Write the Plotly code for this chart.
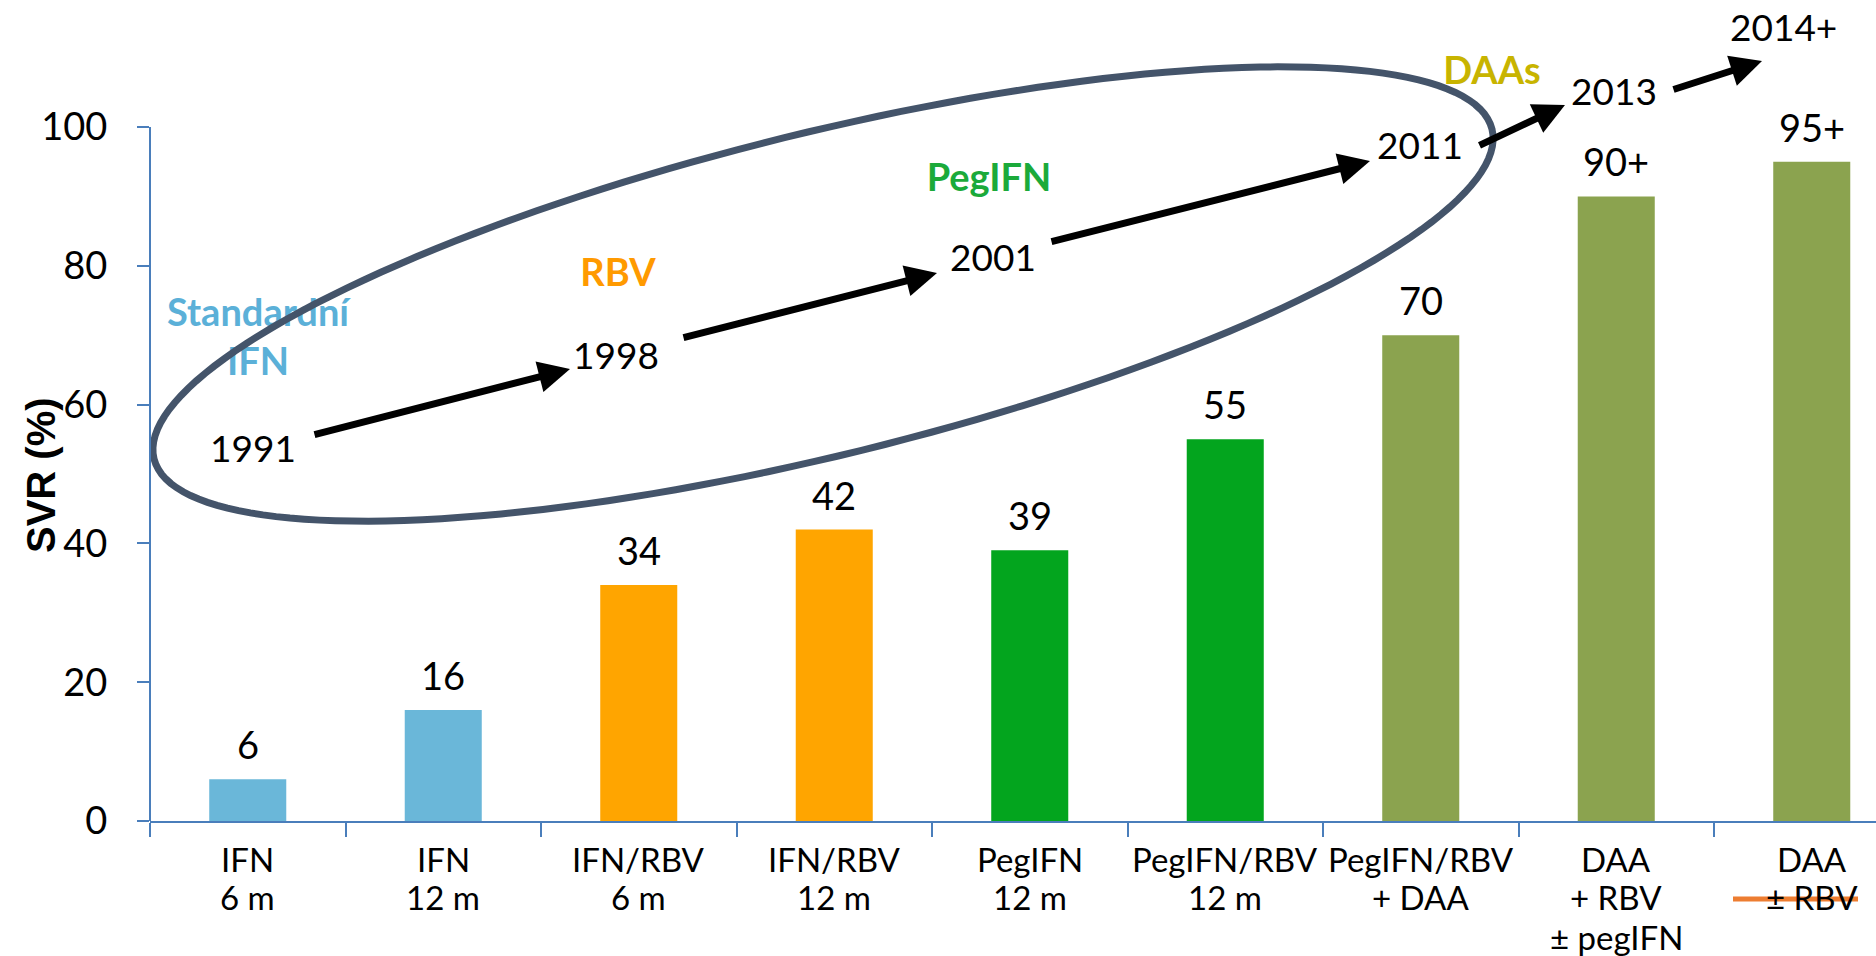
import numpy as np
import plotly.graph_objects as go

W, H = 1876, 956

# ---------------- data ----------------
categories = ["IFN 6 m", "IFN 12 m", "IFN/RBV 6 m", "IFN/RBV 12 m", "PegIFN 12 m",
              "PegIFN/RBV 12 m", "PegIFN/RBV + DAA", "DAA + RBV ± pegIFN", "DAA ± RBV"]
category_lines = [["IFN", "6 m"], ["IFN", "12 m"], ["IFN/RBV", "6 m"], ["IFN/RBV", "12 m"],
                  ["PegIFN", "12 m"], ["PegIFN/RBV", "12 m"], ["PegIFN/RBV", "+ DAA"],
                  ["DAA", "+ RBV", "± pegIFN"], ["DAA", "± RBV"]]
svr_values = [6, 16, 34, 42, 39, 55, 70, 90, 95]
svr_labels = ["6", "16", "34", "42", "39", "55", "70", "90+", "95+"]
bar_colors = ["#6AB7D9", "#6AB7D9", "#FFA500", "#FFA500", "#03A51E", "#03A51E",
              "#8BA34F", "#8BA34F", "#8BA34F"]
y_tick_values = [0, 20, 40, 60, 80, 100]
years = ["1991", "1998", "2001", "2011", "2013", "2014+"]
eras = ["Standardní<br>IFN", "RBV", "PegIFN", "DAAs"]
era_colors = ["#5BB0D8", "#FF9A00", "#1BAA3A", "#C8B400"]

# ---------------- layout positions (pixels) ----------------
year_pos = [(253, 447), (616, 354), (993, 256), (1420, 145), (1614, 91), (1783, 26)]
era_x = [258, 618, 989, 1492]
era_y = [341, 276, 181, 74]
arrow_pos = [((313, 435), (570, 369)), ((682, 338), (937, 273)), ((1050, 242), (1370, 161)),
             ((1478, 146), (1565, 105)), ((1672, 90), (1762, 61))]
line_y = [859, 897, 937]

PLOT_L, PLOT_B = 150, 821
PX_PER_UNIT = (821 - 127) / 100.0
Y_TOP = PLOT_B / PX_PER_UNIT
X_RIGHT = -0.5 + (W - PLOT_L) / 195.5


def px(x):
    return x / W


def py(y):
    return 1 - y / H


AXIS_COLOR = "#4A7EBB"
FONT = "Lato, 'Open Sans', sans-serif"

fig = go.Figure()
fig.add_trace(go.Bar(x=categories, y=svr_values, marker=dict(color=bar_colors, line_width=0),
                     hoverinfo="x+y"))
# era names (drawn as a trace so the ellipse passes over them)
fig.add_trace(go.Scatter(x=era_x, y=era_y, xaxis="x2", yaxis="y2", mode="text",
                         text=["<b>" + e + "</b>" for e in eras], textposition="middle center",
                         textfont=dict(family=FONT, size=38, color=era_colors),
                         cliponaxis=False, hoverinfo="skip"))

annotations = []
# value labels above bars
for c, v, t in zip(categories, svr_values, svr_labels):
    annotations.append(dict(x=c, y=v, xref="x", yref="y", text=t, showarrow=False,
                            yshift=35, yanchor="middle", xanchor="center",
                            font=dict(family=FONT, size=38, color="#000000")))
# category labels (multi-line)
for c, lines in zip(categories, category_lines):
    for i, ln in enumerate(lines):
        annotations.append(dict(x=c, y=py(line_y[i]), xref="x", yref="paper", text=ln,
                                showarrow=False, xanchor="center", yanchor="middle",
                                font=dict(family=FONT, size=33, color="#000000")))
# years
for t, (x, y) in zip(years, year_pos):
    annotations.append(dict(x=px(x), y=py(y), xref="paper", yref="paper", text=t,
                            showarrow=False, xanchor="center", yanchor="middle",
                            font=dict(family=FONT, size=37, color="#000000")))
# arrows
for (tx, ty), (hx, hy) in arrow_pos:
    annotations.append(dict(x=px(hx), y=py(hy), xref="paper", yref="paper", text="",
                            showarrow=True, ax=tx - hx, ay=ty - hy, axref="pixel", ayref="pixel",
                            arrowhead=2, arrowsize=0.9, arrowwidth=7, arrowcolor="#000000",
                            standoff=0))
# y axis title
annotations.append(dict(x=px(41), y=py(475), xref="paper", yref="paper",
                        text="<b>SVR (%)</b>", textangle=-90, showarrow=False,
                        xanchor="center", yanchor="middle",
                        font=dict(family="'Liberation Sans', Arial, sans-serif", size=40,
                                  color="#000000")))

# ellipse around the timeline
cx, cy, a, b, th = 823, 294, 689, 161, np.deg2rad(13.84)
t = np.linspace(0, 2 * np.pi, 181)
ex = cx + a * np.cos(th) * np.cos(t) - b * np.sin(th) * np.sin(t)
ey = cy - (a * np.sin(th) * np.cos(t) + b * np.cos(th) * np.sin(t))
path = "M " + " L ".join(f"{px(x):.5f},{py(y):.5f}" for x, y in zip(ex, ey)) + " Z"

shapes = [
    dict(type="path", path=path, xref="paper", yref="paper",
         line=dict(color="#44546A", width=7), layer="above"),
    # y axis line (0-100 only)
    dict(type="line", xref="paper", yref="y", x0=px(PLOT_L), x1=px(PLOT_L), y0=0, y1=100,
         line=dict(color=AXIS_COLOR, width=2)),
    # strike-through on last category label
    dict(type="line", xref="paper", yref="paper", x0=px(1733), x1=px(1858),
         y0=py(899), y1=py(899), line=dict(color="#ED7D31", width=5)),
]

fig.update_layout(
    width=W, height=H,
    margin=dict(l=0, r=0, t=0, b=0, autoexpand=False),
    paper_bgcolor="white", plot_bgcolor="white",
    showlegend=False,
    bargap=0.606,
    annotations=annotations,
    shapes=shapes,
    xaxis=dict(domain=[px(PLOT_L), 1], range=[-0.5, X_RIGHT], type="category",
               showticklabels=False, showgrid=False, zeroline=False,
               showline=True, linecolor=AXIS_COLOR, linewidth=2,
               ticks="outside", tickson="boundaries", ticklen=14, tickwidth=2,
               tickcolor=AXIS_COLOR, automargin=False),
    yaxis=dict(domain=[py(PLOT_B), 1], range=[0, Y_TOP], tickvals=y_tick_values,
               showgrid=False, zeroline=False, showline=False,
               ticks="outside", ticklen=12, tickwidth=2, tickcolor=AXIS_COLOR,
               ticklabelstandoff=22,
               tickfont=dict(family=FONT, size=38, color="#000000"), automargin=False),
    xaxis2=dict(overlaying="x", range=[PLOT_L, W], visible=False, fixedrange=True),
    yaxis2=dict(overlaying="y", range=[PLOT_B, 0], visible=False, fixedrange=True),
)

fig.write_html("out.html", config={"displayModeBar": False},
               post_script="document.body.style.margin='0';document.body.style.overflow='hidden';")
